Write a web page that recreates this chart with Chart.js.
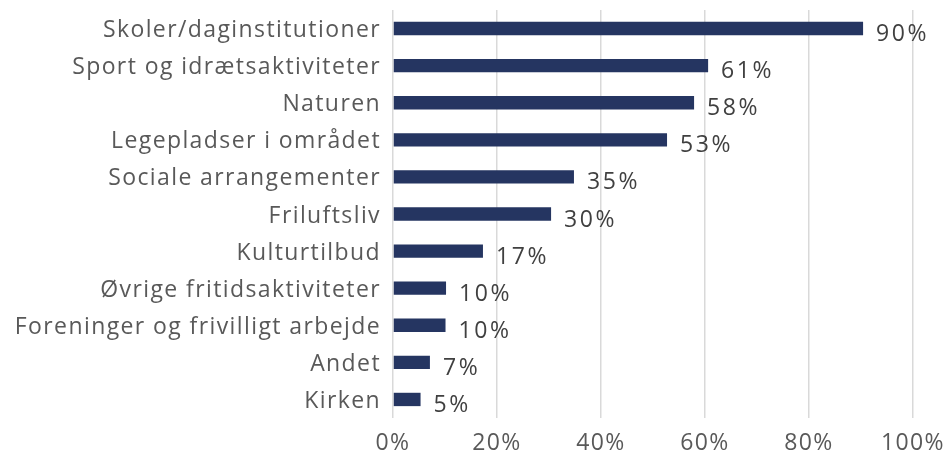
<!DOCTYPE html>
<html>
<head>
<meta charset="utf-8">
<script src="https://cdn.jsdelivr.net/npm/chart.js@4/dist/chart.umd.min.js"></script>
<style>
  html, body { margin: 0; padding: 0; background: #fff; }
  #wrap { width: 949px; height: 455px; }
</style>
</head>
<body>
<div id="wrap"><canvas id="chart"></canvas></div>
<script>
const categories = [
  "Skoler/daginstitutioner",
  "Sport og idrætsaktiviteter",
  "Naturen",
  "Legepladser i området",
  "Sociale arrangementer",
  "Friluftsliv",
  "Kulturtilbud",
  "Øvrige fritidsaktiviteter",
  "Foreninger og frivilligt arbejde",
  "Andet",
  "Kirken"
];
const values = [90.4, 60.6, 57.9, 52.7, 34.8, 30.4, 17.3, 10.2, 10.1, 7.1, 5.3];
const valueLabels = ["90%", "61%", "58%", "53%", "35%", "30%", "17%", "10%", "10%", "7%", "5%"];
const xTicks = [0, 20, 40, 60, 80, 100];

const FONT = "'Open Sans', Lato, sans-serif";
const SPACING = "1.4px";

// wider letter spacing, closer to the original typeface
const spacingPlugin = {
  id: "spacing",
  beforeLayout(chart) { chart.ctx.letterSpacing = SPACING; },
  beforeDraw(chart) { chart.ctx.letterSpacing = SPACING; }
};

const valueLabelPlugin = {
  id: "valueLabels",
  afterDatasetsDraw(chart) {
    const ctx = chart.ctx;
    const meta = chart.getDatasetMeta(0);
    ctx.save();
    ctx.font = "23px " + FONT;
    ctx.letterSpacing = "2.6px";
    ctx.fillStyle = "#404040";
    ctx.textAlign = "left";
    ctx.textBaseline = "middle";
    meta.data.forEach((bar, i) => {
      ctx.fillText(valueLabels[i], bar.x + 13, bar.y + 6);
    });
    ctx.restore();
  }
};

const ctx = document.getElementById("chart").getContext("2d");
const chart = new Chart(ctx, {
  type: "bar",
  data: {
    labels: categories,
    datasets: [{
      data: values,
      backgroundColor: "#253561",
      barPercentage: 0.36,
      categoryPercentage: 1
    }]
  },
  options: {
    indexAxis: "y",
    responsive: true,
    maintainAspectRatio: false,
    animation: false,
    layout: { padding: { top: 10, right: 36, left: 0, bottom: 0 } },
    plugins: {
      legend: { display: false },
      tooltip: { enabled: false }
    },
    scales: {
      x: {
        min: 0,
        max: 100,
        afterBuildTicks: (scale) => {
          scale.ticks = xTicks.map((v) => ({ value: v }));
        },
        afterFit: (scale) => {
          scale.height = 455 - 418;
          scale.paddingLeft = 0;
          scale.paddingRight = 0;
        },
        grid: { color: "#d9d9d9", lineWidth: 1.5, drawTicks: false },
        border: { display: false },
        ticks: {
          padding: 12,
          color: "#595959",
          font: { family: FONT, size: 23 },
          callback: (v) => v + "%"
        }
      },
      y: {
        afterFit: (scale) => {
          scale.width = 393;
          scale.paddingTop = 0;
          scale.paddingBottom = 0;
        },
        grid: { display: false, drawTicks: false },
        border: { display: false },
        ticks: {
          padding: 12,
          labelOffset: 2,
          color: "#595959",
          font: { family: FONT, size: 23 }
        }
      }
    }
  },
  plugins: [spacingPlugin, valueLabelPlugin]
});
</script>
</body>
</html>
